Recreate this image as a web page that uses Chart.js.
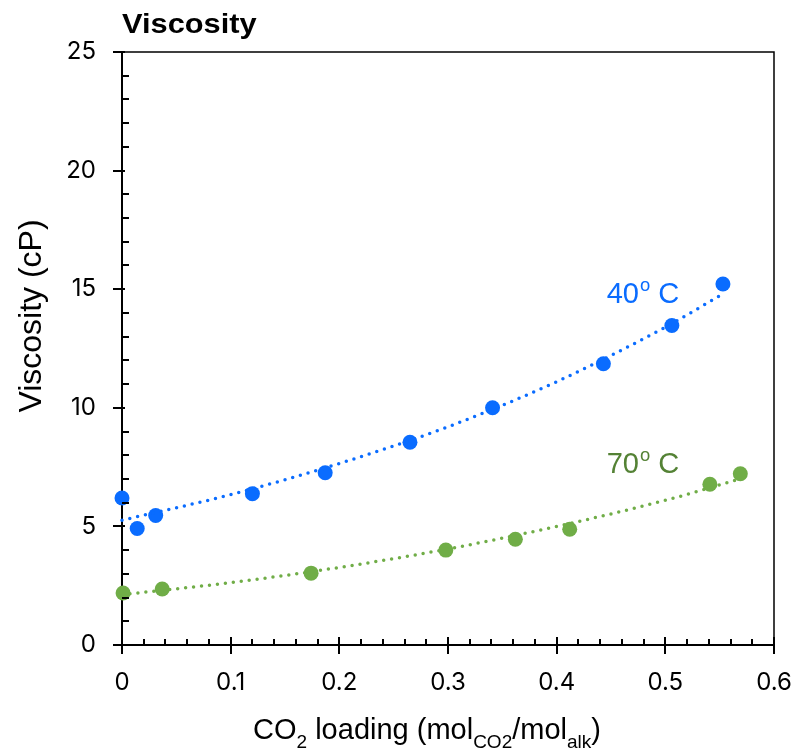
<!DOCTYPE html>
<html>
<head>
<title>Viscosity</title>
<script src="https://cdn.jsdelivr.net/npm/chart.js"></script>
<style>
  body { margin: 0; background: #fff; }
</style>
</head>
<body>
<canvas id="myChart" width="798" height="752"></canvas>
<script>
// measured points, 40 C
const loading40 = [0, 0.014, 0.031, 0.120, 0.187, 0.265, 0.341, 0.443, 0.506, 0.553];
const visc40 = [6.2, 4.91, 5.46, 6.38, 7.26, 8.55, 10.0, 11.86, 13.47, 15.22];
// measured points, 70 C
const loading70 = [0.001, 0.037, 0.174, 0.298, 0.362, 0.412, 0.541, 0.569];
const visc70 = [2.19, 2.36, 3.03, 4.0, 4.46, 4.88, 6.78, 7.22];
// trend lines
const trendX40 = [0, 0.1, 0.2, 0.3, 0.4, 0.5, 0.553];
const trendY40 = [5.26, 6.34, 7.65, 9.2, 11.1, 13.4, 14.8];
const trendX70 = [0, 0.1, 0.2, 0.3, 0.4, 0.5, 0.569];
const trendY70 = [2.12, 2.63, 3.27, 4.05, 5.0, 6.1, 7.0];

const xTicks = [0, 0.1, 0.2, 0.3, 0.4, 0.5, 0.6];
const yTicks = [0, 5, 10, 15, 20, 25];

const blue = '#0a6cff';
const green = '#70ad47';
const greenText = '#548235';
const font = '"Liberation Sans", Arial, sans-serif';
const tickFont = 'Inter, "Liberation Sans", sans-serif';

const pts = (xs, ys) => xs.map((x, i) => ({ x: x, y: ys[i] }));

function drawParts(ctx, parts, cx, base) {
    let total = 0;
    parts.forEach(p => { ctx.font = p.f; p.w = ctx.measureText(p.t).width; total += p.w; });
    let x0 = cx - total / 2;
    parts.forEach(p => {
        ctx.font = p.f;
        ctx.fillText(p.t, x0, base + (p.dy || 0));
        x0 += p.w;
    });
}

const decor = {
    id: 'decor',
    afterDraw(chart) {
        const { ctx, chartArea: a, scales: { x, y } } = chart;
        ctx.save();
        ctx.strokeStyle = '#000';
        ctx.lineWidth = 1.5;
        ctx.beginPath();
        ctx.moveTo(a.left, a.top);
        ctx.lineTo(a.right, a.top);
        ctx.lineTo(a.right, a.bottom);
        ctx.stroke();

        // tick marks
        ctx.lineWidth = 2;
        ctx.beginPath();
        for (let v = 0; v <= 25; v++) {
            const py = Math.round(y.getPixelForValue(v));
            if (v % 5 === 0) { ctx.moveTo(a.left - 9, py); ctx.lineTo(a.left + 3, py); }
            else { ctx.moveTo(a.left, py); ctx.lineTo(a.left + 7, py); }
        }
        for (let i = 0; i <= 30; i++) {
            const px = Math.round(x.getPixelForValue(i * 0.02));
            if (i % 5 === 0) { ctx.moveTo(px, a.bottom - 8); ctx.lineTo(px, a.bottom + 9); }
            else { ctx.moveTo(px, a.bottom - 6); ctx.lineTo(px, a.bottom); }
        }
        ctx.stroke();

        ctx.fillStyle = '#000';
        ctx.textAlign = 'left';
        ctx.textBaseline = 'alphabetic';

        // title
        ctx.save();
        ctx.translate(a.left, 33);
        ctx.scale(1.1, 1);
        ctx.font = 'bold 28px ' + font;
        ctx.fillText('Viscosity', 0, 0);
        ctx.restore();

        // y axis title
        ctx.save();
        ctx.translate(41, 316);
        ctx.rotate(-Math.PI / 2);
        ctx.textAlign = 'center';
        ctx.font = '32px ' + font;
        ctx.fillText('Viscosity (cP)', 0, 0);
        ctx.restore();

        // x axis title
        const main = '29px ' + font, sub = '19px ' + font;
        drawParts(ctx, [
            { t: 'CO', f: main },
            { t: '2', f: sub, dy: 9 },
            { t: ' loading (mol', f: main },
            { t: 'CO2', f: sub, dy: 9 },
            { t: '/mol', f: main },
            { t: 'alk', f: sub, dy: 9 },
            { t: ')', f: main }
        ], 427, 739);

        // series labels
        const lab = (txt, color, vx, vy) => {
            const px = x.getPixelForValue(vx), py = y.getPixelForValue(vy);
            ctx.fillStyle = color;
            ctx.save();
            ctx.translate(px, py);
            ctx.scale(0.97, 1);
            ctx.font = '30px ' + font;
            ctx.fillText(txt, 0, 0);
            let w = ctx.measureText(txt).width;
            ctx.font = '19px ' + font;
            ctx.fillText('o', w + 1, -12);
            w += ctx.measureText('o').width + 1;
            ctx.font = '30px ' + font;
            ctx.fillText(' C', w, 0);
            ctx.restore();
        };
        lab('40', blue, 0.446, 14.42);
        lab('70', greenText, 0.446, 7.25);
        ctx.restore();
    }
};

const config = {
    type: 'line',
    data: {
        datasets: [
            {
                label: 'trend 40',
                data: pts(trendX40, trendY40),
                borderColor: blue,
                borderWidth: 3.5,
                borderDash: [0, 8],
                borderCapStyle: 'round',
                cubicInterpolationMode: 'monotone',
                pointRadius: 0,
                fill: false
            },
            {
                label: 'trend 70',
                data: pts(trendX70, trendY70),
                borderColor: green,
                borderWidth: 3.5,
                borderDash: [0, 8],
                borderCapStyle: 'round',
                cubicInterpolationMode: 'monotone',
                pointRadius: 0,
                fill: false
            },
            {
                label: '40 C',
                data: pts(loading40, visc40),
                showLine: false,
                pointRadius: 7.5,
                pointBackgroundColor: blue,
                pointBorderWidth: 0
            },
            {
                label: '70 C',
                data: pts(loading70, visc70),
                showLine: false,
                pointRadius: 7.5,
                pointBackgroundColor: green,
                pointBorderWidth: 0
            }
        ]
    },
    options: {
        responsive: false,
        animation: false,
        clip: false,
        layout: { padding: { top: 52, right: 24, left: 0, bottom: 0 } },
        plugins: {
            legend: { display: false },
            tooltip: { enabled: false }
        },
        scales: {
            x: {
                type: 'linear',
                min: 0,
                max: 0.6,
                afterBuildTicks: s => { s.ticks = xTicks.map(v => ({ value: v })); },
                afterFit: s => { s.height = 107; s.paddingLeft = 0; s.paddingRight = 0; },
                grid: { display: false, drawTicks: false },
                border: { display: true, color: '#000', width: 2 },
                ticks: {
                    color: '#000',
                    padding: 23,
                    font: { family: tickFont, size: 24 },
                    callback: v => String(Math.round(v * 10) / 10)
                }
            },
            y: {
                type: 'linear',
                min: 0,
                max: 25,
                afterBuildTicks: s => { s.ticks = yTicks.map(v => ({ value: v })); },
                afterFit: s => { s.width = 122; s.paddingTop = 0; s.paddingBottom = 0; },
                grid: { display: false, drawTicks: false },
                border: { display: true, color: '#000', width: 2 },
                ticks: {
                    color: '#000',
                    padding: 26,
                    font: { family: tickFont, size: 24 }
                }
            }
        }
    },
    plugins: [decor]
};

new Chart(document.getElementById('myChart'), config);
</script>
</body>
</html>
